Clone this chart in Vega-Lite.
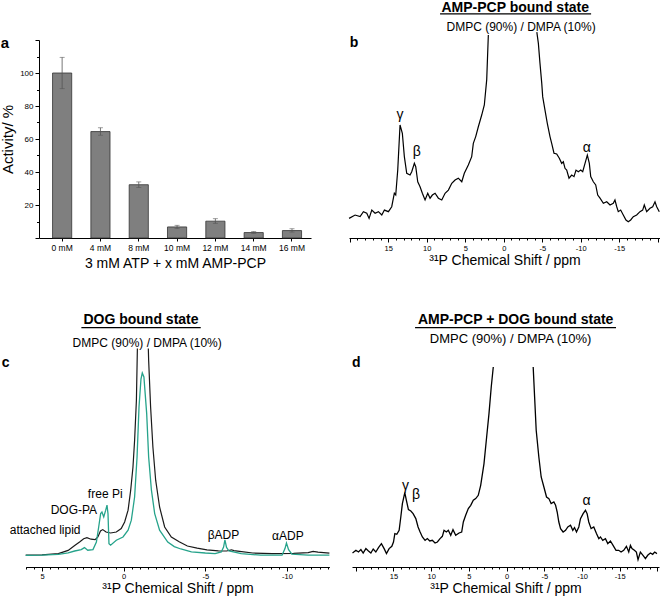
{
 "$schema": "https://vega.github.io/schema/vega-lite/v6.json",
 "padding": 0,
 "background": "white",
 "columns": 1,
 "align": "none",
 "spacing": 42,
 "config": {
  "font": "Liberation Sans",
  "view": {"stroke": null},
  "axis": {"domainColor": "black", "tickColor": "black", "labelColor": "black", "titleColor": "black", "titleFontWeight": "normal", "grid": false, "titleFontSize": 14},
  "text": {"color": "black", "font": "Liberation Sans"}
 },
 "datasets": {
  "activity": [
   {"conc": "0 mM", "activity": 100, "lo": 90.5, "hi": 109.5},
   {"conc": "4 mM", "activity": 64.5, "lo": 62.3, "hi": 66.8},
   {"conc": "8 mM", "activity": 32.3, "lo": 30.6, "hi": 34.0},
   {"conc": "10 mM", "activity": 6.7, "lo": 5.7, "hi": 7.7},
   {"conc": "12 mM", "activity": 10.2, "lo": 8.9, "hi": 11.7},
   {"conc": "14 mM", "activity": 3.3, "lo": 2.8, "hi": 3.9},
   {"conc": "16 mM", "activity": 4.5, "lo": 3.6, "hi": 5.6}
  ],
  "specB": [
   {"ppm":20.09,"i":9.9,"seg":"L"},{"ppm":19.31,"i":11.6,"seg":"L"},{"ppm":18.66,"i":10.8,"seg":"L"},{"ppm":18.23,"i":13.3,"seg":"L"},{"ppm":17.79,"i":12.5,"seg":"L"},{"ppm":17.49,"i":9.9,"seg":"L"},{"ppm":17.14,"i":14.1,"seg":"L"},{"ppm":16.71,"i":12.5,"seg":"L"},{"ppm":16.28,"i":13.3,"seg":"L"},{"ppm":15.84,"i":11.6,"seg":"L"},{"ppm":15.5,"i":14.1,"seg":"L"},{"ppm":14.98,"i":13.3,"seg":"L"},{"ppm":14.55,"i":15.8,"seg":"L"},{"ppm":14.21,"i":22.6,"seg":"L"},{"ppm":14.03,"i":21.7,"seg":"L"},{"ppm":13.77,"i":34.3,"seg":"L"},{"ppm":13.47,"i":57.1,"seg":"L"},{"ppm":13.17,"i":52.9,"seg":"L"},{"ppm":12.91,"i":41.1,"seg":"L"},{"ppm":12.6,"i":32.7,"seg":"L"},{"ppm":12.17,"i":31.8,"seg":"L"},{"ppm":11.95,"i":33.5,"seg":"L"},{"ppm":11.61,"i":37.7,"seg":"L"},{"ppm":11.43,"i":36.0,"seg":"L"},{"ppm":11.17,"i":28.4,"seg":"L"},{"ppm":10.87,"i":25.9,"seg":"L"},{"ppm":10.57,"i":22.6,"seg":"L"},{"ppm":10.22,"i":19.2,"seg":"L"},{"ppm":9.87,"i":22.6,"seg":"L"},{"ppm":9.57,"i":20.1,"seg":"L"},{"ppm":9.27,"i":21.7,"seg":"L"},{"ppm":8.92,"i":22.6,"seg":"L"},{"ppm":8.49,"i":20.1,"seg":"L"},{"ppm":8.05,"i":19.2,"seg":"L"},{"ppm":7.62,"i":22.6,"seg":"L"},{"ppm":7.19,"i":24.2,"seg":"L"},{"ppm":6.75,"i":27.6,"seg":"L"},{"ppm":6.32,"i":29.3,"seg":"L"},{"ppm":5.9,"i":30.2,"seg":"L"},{"ppm":5.45,"i":28.4,"seg":"L"},{"ppm":5.12,"i":32.7,"seg":"L"},{"ppm":4.6,"i":36.9,"seg":"L"},{"ppm":4.16,"i":41.1,"seg":"L"},{"ppm":3.95,"i":47.8,"seg":"L"},{"ppm":3.64,"i":51.2,"seg":"L"},{"ppm":3.3,"i":56.2,"seg":"L"},{"ppm":2.86,"i":62.1,"seg":"L"},{"ppm":2.52,"i":67.2,"seg":"L"},{"ppm":2.21,"i":80.0,"seg":"L"},{"ppm":2.0,"i":102.5,"seg":"L"},
   {"ppm":-4.3,"i":104,"seg":"R"},{"ppm":-4.5,"i":98.3,"seg":"R"},{"ppm":-4.71,"i":88.2,"seg":"R"},{"ppm":-4.94,"i":78.1,"seg":"R"},{"ppm":-5.06,"i":71.4,"seg":"R"},{"ppm":-5.36,"i":64.6,"seg":"R"},{"ppm":-5.66,"i":57.9,"seg":"R"},{"ppm":-6.01,"i":51.2,"seg":"R"},{"ppm":-6.23,"i":47.8,"seg":"R"},{"ppm":-6.53,"i":42.8,"seg":"R"},{"ppm":-6.88,"i":42.4,"seg":"R"},{"ppm":-7.22,"i":40.3,"seg":"R"},{"ppm":-7.53,"i":37.7,"seg":"R"},{"ppm":-7.74,"i":38.5,"seg":"R"},{"ppm":-7.96,"i":35.2,"seg":"R"},{"ppm":-8.18,"i":34.3,"seg":"R"},{"ppm":-8.48,"i":30.2,"seg":"R"},{"ppm":-8.83,"i":31.8,"seg":"R"},{"ppm":-9.13,"i":31.0,"seg":"R"},{"ppm":-9.39,"i":34.3,"seg":"R"},{"ppm":-9.69,"i":33.5,"seg":"R"},{"ppm":-10.0,"i":34.3,"seg":"R"},{"ppm":-10.26,"i":33.5,"seg":"R"},{"ppm":-10.56,"i":37.7,"seg":"R"},{"ppm":-10.86,"i":41.9,"seg":"R"},{"ppm":-11.12,"i":37.7,"seg":"R"},{"ppm":-11.3,"i":31.0,"seg":"R"},{"ppm":-11.64,"i":28.4,"seg":"R"},{"ppm":-11.95,"i":26.8,"seg":"R"},{"ppm":-12.21,"i":21.7,"seg":"R"},{"ppm":-12.51,"i":20.1,"seg":"R"},{"ppm":-12.94,"i":17.5,"seg":"R"},{"ppm":-13.38,"i":18.3,"seg":"R"},{"ppm":-13.81,"i":16.7,"seg":"R"},{"ppm":-14.23,"i":17.5,"seg":"R"},{"ppm":-14.45,"i":19.2,"seg":"R"},{"ppm":-14.68,"i":15.8,"seg":"R"},{"ppm":-14.88,"i":13.3,"seg":"R"},{"ppm":-15.19,"i":14.1,"seg":"R"},{"ppm":-15.53,"i":11.6,"seg":"R"},{"ppm":-15.88,"i":9.1,"seg":"R"},{"ppm":-16.18,"i":8.2,"seg":"R"},{"ppm":-16.49,"i":9.1,"seg":"R"},{"ppm":-16.83,"i":10.8,"seg":"R"},{"ppm":-17.27,"i":11.6,"seg":"R"},{"ppm":-17.7,"i":13.3,"seg":"R"},{"ppm":-18.05,"i":14.1,"seg":"R"},{"ppm":-18.26,"i":16.7,"seg":"R"},{"ppm":-18.57,"i":13.3,"seg":"R"},{"ppm":-19.0,"i":15.0,"seg":"R"},{"ppm":-19.35,"i":15.8,"seg":"R"},{"ppm":-19.65,"i":18.3,"seg":"R"},{"ppm":-19.87,"i":15.8,"seg":"R"},{"ppm":-20.21,"i":13.3,"seg":"R"}
  ],
  "specCblack": [
   {"ppm":6.0,"i":5.9,"seg":"L"},{"ppm":5.0,"i":6.1,"seg":"L"},{"ppm":4.0,"i":6.7,"seg":"L"},{"ppm":3.4,"i":8.3,"seg":"L"},{"ppm":3.0,"i":10.8,"seg":"L"},{"ppm":2.7,"i":12.5,"seg":"L"},{"ppm":2.45,"i":14.1,"seg":"L"},{"ppm":2.25,"i":14.7,"seg":"L"},{"ppm":2.0,"i":13.9,"seg":"L"},{"ppm":1.75,"i":13.7,"seg":"L"},{"ppm":1.58,"i":15.0,"seg":"L"},{"ppm":1.42,"i":18.0,"seg":"L"},{"ppm":1.28,"i":18.7,"seg":"L"},{"ppm":1.08,"i":17.5,"seg":"L"},{"ppm":0.8,"i":17.0,"seg":"L"},{"ppm":0.45,"i":17.5,"seg":"L"},{"ppm":0.15,"i":19.2,"seg":"L"},{"ppm":-0.06,"i":22.5,"seg":"L"},{"ppm":-0.27,"i":28.4,"seg":"L"},{"ppm":-0.43,"i":38.4,"seg":"L"},{"ppm":-0.57,"i":50.0,"seg":"L"},{"ppm":-0.67,"i":63.4,"seg":"L"},{"ppm":-0.78,"i":83.4,"seg":"L"},{"ppm":-0.84,"i":109.2,"seg":"L"},
   {"ppm":-1.51,"i":109.2,"seg":"R"},{"ppm":-1.53,"i":103.4,"seg":"R"},{"ppm":-1.65,"i":80.0,"seg":"R"},{"ppm":-1.79,"i":60.0,"seg":"R"},{"ppm":-1.96,"i":43.4,"seg":"R"},{"ppm":-2.2,"i":30.0,"seg":"R"},{"ppm":-2.51,"i":20.0,"seg":"R"},{"ppm":-2.92,"i":15.0,"seg":"R"},{"ppm":-3.4,"i":12.6,"seg":"R"},{"ppm":-3.9,"i":10.5,"seg":"R"},{"ppm":-4.5,"i":9.4,"seg":"R"},{"ppm":-5.1,"i":8.6,"seg":"R"},{"ppm":-5.8,"i":8.1,"seg":"R"},{"ppm":-6.3,"i":8.0,"seg":"R"},{"ppm":-6.6,"i":8.6,"seg":"R"},{"ppm":-6.75,"i":8.2,"seg":"R"},{"ppm":-7.1,"i":7.8,"seg":"R"},{"ppm":-7.9,"i":7.0,"seg":"R"},{"ppm":-9.1,"i":6.7,"seg":"R"},{"ppm":-10.4,"i":6.8,"seg":"R"},{"ppm":-11.3,"i":7.2,"seg":"R"},{"ppm":-11.6,"i":7.8,"seg":"R"},{"ppm":-11.9,"i":7.4,"seg":"R"},{"ppm":-12.6,"i":6.9,"seg":"R"}
  ],
  "specCteal": [
   {"ppm":6.0,"i":5.8},{"ppm":5.0,"i":5.9},{"ppm":4.0,"i":6.3},{"ppm":3.4,"i":7.1},{"ppm":3.0,"i":8.0},{"ppm":2.6,"i":8.7},{"ppm":2.4,"i":9.7},{"ppm":2.2,"i":8.4},{"ppm":1.88,"i":8.7},{"ppm":1.67,"i":12.5},{"ppm":1.53,"i":20.0},{"ppm":1.41,"i":26.7},{"ppm":1.33,"i":27.5},{"ppm":1.22,"i":25.0},{"ppm":1.1,"i":28.4},{"ppm":1.02,"i":30.9},{"ppm":0.96,"i":26.7},{"ppm":0.9,"i":11.7},{"ppm":0.8,"i":10.9},{"ppm":0.45,"i":13.4},{"ppm":0.04,"i":15.0},{"ppm":-0.27,"i":18.4},{"ppm":-0.47,"i":23.4},{"ppm":-0.67,"i":35.0},{"ppm":-0.82,"i":55.0},{"ppm":-0.94,"i":80.0},{"ppm":-1.06,"i":94.0},{"ppm":-1.14,"i":97.0},{"ppm":-1.24,"i":95.0},{"ppm":-1.41,"i":76.7},{"ppm":-1.53,"i":55.0},{"ppm":-1.7,"i":38.4},{"ppm":-1.9,"i":26.7},{"ppm":-2.2,"i":18.4},{"ppm":-2.7,"i":12.5},{"ppm":-3.1,"i":10.2},{"ppm":-3.5,"i":9.0},{"ppm":-4.15,"i":7.6},{"ppm":-5.0,"i":7.0},{"ppm":-5.6,"i":6.7},{"ppm":-5.98,"i":7.5},{"ppm":-6.12,"i":10.0},{"ppm":-6.2,"i":13.6},{"ppm":-6.3,"i":9.8},{"ppm":-6.45,"i":8.0},{"ppm":-7.2,"i":6.7},{"ppm":-8.4,"i":5.9},{"ppm":-9.7,"i":5.9},{"ppm":-9.88,"i":9.2},{"ppm":-9.97,"i":12.0},{"ppm":-10.1,"i":8.7},{"ppm":-10.3,"i":6.4},{"ppm":-11.3,"i":5.9},{"ppm":-12.6,"i":5.9}
  ],
  "specD": [
   {"ppm":20.43,"i":7.0,"seg":"L"},{"ppm":19.98,"i":8.35,"seg":"L"},{"ppm":19.64,"i":7.5,"seg":"L"},{"ppm":19.32,"i":8.7,"seg":"L"},{"ppm":19.02,"i":7.0,"seg":"L"},{"ppm":18.66,"i":9.2,"seg":"L"},{"ppm":18.32,"i":8.0,"seg":"L"},{"ppm":18.0,"i":7.0,"seg":"L"},{"ppm":17.69,"i":9.0,"seg":"L"},{"ppm":17.34,"i":7.5,"seg":"L"},{"ppm":16.99,"i":9.7,"seg":"L"},{"ppm":16.6,"i":11.7,"seg":"L"},{"ppm":16.24,"i":9.2,"seg":"L"},{"ppm":15.93,"i":6.7,"seg":"L"},{"ppm":15.58,"i":9.2,"seg":"L"},{"ppm":15.22,"i":10.35,"seg":"L"},{"ppm":15.0,"i":12.5,"seg":"L"},{"ppm":14.82,"i":16.7,"seg":"L"},{"ppm":14.56,"i":16.35,"seg":"L"},{"ppm":14.25,"i":18.35,"seg":"L"},{"ppm":14.03,"i":25.0,"seg":"L"},{"ppm":13.82,"i":31.7,"seg":"L"},{"ppm":13.5,"i":37.2,"seg":"L"},{"ppm":13.29,"i":33.35,"seg":"L"},{"ppm":13.02,"i":28.7,"seg":"L"},{"ppm":12.7,"i":28.0,"seg":"L"},{"ppm":12.4,"i":26.7,"seg":"L"},{"ppm":12.04,"i":24.2,"seg":"L"},{"ppm":11.74,"i":20.0,"seg":"L"},{"ppm":11.47,"i":17.5,"seg":"L"},{"ppm":11.17,"i":15.0,"seg":"L"},{"ppm":10.81,"i":13.35,"seg":"L"},{"ppm":10.51,"i":14.2,"seg":"L"},{"ppm":10.19,"i":13.0,"seg":"L"},{"ppm":9.85,"i":13.35,"seg":"L"},{"ppm":9.49,"i":12.0,"seg":"L"},{"ppm":9.18,"i":12.5,"seg":"L"},{"ppm":8.83,"i":14.2,"seg":"L"},{"ppm":8.52,"i":15.35,"seg":"L"},{"ppm":8.3,"i":18.35,"seg":"L"},{"ppm":7.99,"i":17.5,"seg":"L"},{"ppm":7.73,"i":18.35,"seg":"L"},{"ppm":7.41,"i":15.85,"seg":"L"},{"ppm":7.11,"i":18.7,"seg":"L"},{"ppm":6.75,"i":15.85,"seg":"L"},{"ppm":6.31,"i":17.0,"seg":"L"},{"ppm":5.96,"i":17.5,"seg":"L"},{"ppm":5.74,"i":22.5,"seg":"L"},{"ppm":5.43,"i":25.85,"seg":"L"},{"ppm":5.08,"i":29.2,"seg":"L"},{"ppm":4.76,"i":30.85,"seg":"L"},{"ppm":4.42,"i":33.35,"seg":"L"},{"ppm":4.1,"i":34.2,"seg":"L"},{"ppm":3.76,"i":35.85,"seg":"L"},{"ppm":3.44,"i":40.85,"seg":"L"},{"ppm":3.0,"i":51.7,"seg":"L"},{"ppm":2.65,"i":65.0,"seg":"L"},{"ppm":2.34,"i":76.7,"seg":"L"},{"ppm":2.04,"i":90.0,"seg":"L"},{"ppm":1.77,"i":100.0,"seg":"L"},
   {"ppm":-3.52,"i":100.0,"seg":"R"},{"ppm":-3.71,"i":85.0,"seg":"R"},{"ppm":-3.92,"i":68.35,"seg":"R"},{"ppm":-4.27,"i":55.0,"seg":"R"},{"ppm":-4.58,"i":45.0,"seg":"R"},{"ppm":-4.94,"i":40.0,"seg":"R"},{"ppm":-5.29,"i":35.0,"seg":"R"},{"ppm":-5.6,"i":34.2,"seg":"R"},{"ppm":-5.9,"i":31.7,"seg":"R"},{"ppm":-6.26,"i":32.5,"seg":"R"},{"ppm":-6.49,"i":30.85,"seg":"R"},{"ppm":-6.7,"i":27.5,"seg":"R"},{"ppm":-6.92,"i":22.5,"seg":"R"},{"ppm":-7.15,"i":19.2,"seg":"R"},{"ppm":-7.49,"i":17.5,"seg":"R"},{"ppm":-7.81,"i":18.35,"seg":"R"},{"ppm":-8.11,"i":20.0,"seg":"R"},{"ppm":-8.47,"i":20.85,"seg":"R"},{"ppm":-8.77,"i":18.35,"seg":"R"},{"ppm":-9.0,"i":19.7,"seg":"R"},{"ppm":-9.26,"i":17.5,"seg":"R"},{"ppm":-9.57,"i":20.0,"seg":"R"},{"ppm":-9.79,"i":24.2,"seg":"R"},{"ppm":-10.14,"i":26.7,"seg":"R"},{"ppm":-10.45,"i":28.35,"seg":"R"},{"ppm":-10.67,"i":26.7,"seg":"R"},{"ppm":-10.89,"i":22.5,"seg":"R"},{"ppm":-11.2,"i":19.2,"seg":"R"},{"ppm":-11.55,"i":20.0,"seg":"R"},{"ppm":-11.91,"i":16.7,"seg":"R"},{"ppm":-12.22,"i":14.2,"seg":"R"},{"ppm":-12.44,"i":15.0,"seg":"R"},{"ppm":-12.74,"i":13.35,"seg":"R"},{"ppm":-13.1,"i":14.2,"seg":"R"},{"ppm":-13.41,"i":11.7,"seg":"R"},{"ppm":-13.76,"i":13.0,"seg":"R"},{"ppm":-14.11,"i":10.85,"seg":"R"},{"ppm":-14.5,"i":8.35,"seg":"R"},{"ppm":-14.86,"i":8.35,"seg":"R"},{"ppm":-15.17,"i":7.5,"seg":"R"},{"ppm":-15.52,"i":8.35,"seg":"R"},{"ppm":-15.88,"i":10.35,"seg":"R"},{"ppm":-16.19,"i":7.5,"seg":"R"},{"ppm":-16.41,"i":10.85,"seg":"R"},{"ppm":-16.62,"i":9.2,"seg":"R"},{"ppm":-16.94,"i":8.35,"seg":"R"},{"ppm":-17.2,"i":7.5,"seg":"R"},{"ppm":-17.42,"i":3.7,"seg":"R"},{"ppm":-17.73,"i":7.5,"seg":"R"},{"ppm":-18.08,"i":5.85,"seg":"R"},{"ppm":-18.4,"i":4.2,"seg":"R"},{"ppm":-18.7,"i":5.85,"seg":"R"},{"ppm":-19.06,"i":7.0,"seg":"R"},{"ppm":-19.36,"i":6.35,"seg":"R"},{"ppm":-19.63,"i":7.5,"seg":"R"},{"ppm":-19.93,"i":6.7,"seg":"R"}
  ]
 },
 "concat": [
  {
   "spacing": 35,
   "hconcat": [
    {
     "width": 272, "height": 198,
     "title": {"text": "a", "anchor": "start", "frame": "bounds", "fontSize": 15, "fontWeight": "bold", "baseline": "alphabetic", "offset": 0, "dy": 27, "color": "black"},
     "data": {"name": "activity"},
     "resolve": {"axis": {"y": "independent"}},
     "encoding": {
      "x": {"field": "conc", "type": "nominal", "sort": null, "title": "3 mM ATP + x mM AMP-PCP",
            "scale": {"paddingInner": 0.5, "paddingOuter": 0.3, "align": 0.59},
            "axis": {"labelAngle": 0, "labelFontSize": 8.5, "tickSize": 3, "labelPadding": 2, "titlePadding": 5}}
     },
     "layer": [
      {"mark": {"type": "bar", "fill": "#7f7f7f", "stroke": "#333333", "strokeWidth": 0.8},
       "encoding": {"y": {"field": "activity", "type": "quantitative", "title": "Activity/ %",
         "scale": {"domain": [0, 120], "nice": false},
         "axis": {"values": [0,10,20,30,40,50,60,70,80,90,100,110,120],
                  "labelOverlap": false,
                  "labelExpr": "datum.value % 20 === 0 && datum.value > 0 && datum.value < 120 ? datum.label : ''",
                  "tickSize": {"condition": {"test": "datum.value % 20 === 0", "value": 4}, "value": 2.5},
                  "labelFontSize": 8, "labelPadding": 2, "titlePadding": 4, "titleFontSize": 15}}}},
      {"mark": {"type": "rule", "color": "#555555", "strokeWidth": 0.8},
       "encoding": {"y": {"field": "lo", "type": "quantitative", "axis": null}, "y2": {"field": "hi"}}},
      {"mark": {"type": "tick", "color": "#555555", "size": 5, "thickness": 0.8},
       "encoding": {"y": {"field": "lo", "type": "quantitative", "axis": null}}},
      {"mark": {"type": "tick", "color": "#555555", "size": 5, "thickness": 0.8},
       "encoding": {"y": {"field": "hi", "type": "quantitative", "axis": null}}}
     ]
    },
    {
     "width": 311, "height": 198,
     "resolve": {"axis": {"x": "independent", "y": "independent"}},
     "layer": [
      {"data": {"name": "specB"}, "mark": {"type": "line", "color": "black", "strokeWidth": 1.2},
       "encoding": {
        "x": {"field": "ppm", "type": "quantitative", "title": "³¹P Chemical Shift / ppm",
              "scale": {"domain": [20.1, -20.3], "nice": false, "zero": false},
              "axis": {"values": [20,19,18,17,16,15,14,13,12,11,10,9,8,7,6,5,4,3,2,1,0,-1,-2,-3,-4,-5,-6,-7,-8,-9,-10,-11,-12,-13,-14,-15,-16,-17,-18,-19,-20],
                       "labelOverlap": false,
                       "labelExpr": "abs(datum.value) <= 15 && datum.value % 5 === 0 ? toString(datum.value) : ''",
                       "tickSize": {"condition": {"test": "datum.value % 5 === 0", "value": 4}, "value": 2},
                       "labelFontSize": 7.5, "labelPadding": 2, "titlePadding": 2}},
        "y": {"field": "i", "type": "quantitative", "scale": {"domain": [0, 100], "nice": false}, "axis": null},
        "detail": {"field": "seg"}}},
      {"data": {"values": [{"k": 1}]}, "mark": {"type": "text", "text": "AMP-PCP bound state", "fontSize": 14, "fontWeight": "bold", "align": "center", "baseline": "alphabetic"},
       "encoding": {"x": {"datum": -1.5, "type": "quantitative", "axis": null}, "y": {"datum": 114.3, "type": "quantitative", "axis": null}}},
      {"data": {"values": [{"k": 1}]}, "mark": {"type": "rule", "color": "black", "strokeWidth": 1.2},
       "encoding": {"x": {"datum": 8.27, "type": "quantitative", "axis": null}, "x2": {"datum": -11.35}, "y": {"datum": 113.2, "type": "quantitative", "axis": null}}},
      {"data": {"values": [{"k": 1}]}, "mark": {"type": "text", "text": "DMPC (90%) / DMPA (10%)", "fontSize": 12, "align": "center", "baseline": "alphabetic"},
       "encoding": {"x": {"datum": -2.25, "type": "quantitative", "axis": null}, "y": {"datum": 104.5, "type": "quantitative", "axis": null}}},
      {"data": {"values": [{"k": 1}]}, "mark": {"type": "text", "text": "b", "fontSize": 14, "fontWeight": "bold", "align": "left", "baseline": "alphabetic"},
       "encoding": {"x": {"datum": 20.0, "type": "quantitative", "axis": null}, "y": {"datum": 96.6, "type": "quantitative", "axis": null}}},
      {"data": {"values": [{"k": 1}]}, "mark": {"type": "text", "text": "γ", "fontSize": 14, "align": "center", "baseline": "middle"},
       "encoding": {"x": {"datum": 13.47, "type": "quantitative", "axis": null}, "y": {"datum": 62.1, "type": "quantitative", "axis": null}}},
      {"data": {"values": [{"k": 1}]}, "mark": {"type": "text", "text": "β", "fontSize": 14, "align": "center", "baseline": "middle"},
       "encoding": {"x": {"datum": 11.3, "type": "quantitative", "axis": null}, "y": {"datum": 43.2, "type": "quantitative", "axis": null}}},
      {"data": {"values": [{"k": 1}]}, "mark": {"type": "text", "text": "α", "fontSize": 14, "align": "center", "baseline": "middle"},
       "encoding": {"x": {"datum": -10.78, "type": "quantitative", "axis": null}, "y": {"datum": 45.5, "type": "quantitative", "axis": null}}}
     ]
    }
   ]
  },
  {
   "spacing": 6,
   "hconcat": [
    {
     "width": 290, "height": 200,
     "resolve": {"axis": {"x": "independent", "y": "independent"}},
     "layer": [
      {"data": {"name": "specCblack"}, "mark": {"type": "line", "color": "#1a1a1a", "strokeWidth": 1.2},
       "encoding": {
        "x": {"field": "ppm", "type": "quantitative", "title": "³¹P Chemical Shift / ppm",
              "scale": {"domain": [6, -12.6], "range": [-13.3, 290.4], "nice": false, "zero": false},
              "axis": {"values": [6,5.5,5,4.5,4,3.5,3,2.5,2,1.5,1,0.5,0,-0.5,-1,-1.5,-2,-2.5,-3,-3.5,-4,-4.5,-5,-5.5,-6,-6.5,-7,-7.5,-8,-8.5,-9,-9.5,-10,-10.5,-11,-11.5,-12,-12.5],
                       "labelOverlap": false,
                       "labelExpr": "datum.value % 5 === 0 ? toString(datum.value) : ''",
                       "tickSize": {"condition": {"test": "datum.value % 5 === 0", "value": 4}, "value": 2},
                       "labelFontSize": 7.5, "labelPadding": 1, "titlePadding": 2}},
        "y": {"field": "i", "type": "quantitative", "scale": {"domain": [0, 100], "nice": false}, "axis": null},
        "detail": {"field": "seg"}}},
      {"data": {"name": "specCteal"}, "mark": {"type": "line", "color": "#26a38b", "strokeWidth": 1.3},
       "encoding": {"x": {"field": "ppm", "type": "quantitative", "axis": null}, "y": {"field": "i", "type": "quantitative", "axis": null}}},
      {"data": {"values": [{"k": 1}]}, "mark": {"type": "text", "text": "DOG bound state", "fontSize": 14, "fontWeight": "bold", "align": "center", "baseline": "alphabetic"},
       "encoding": {"x": {"datum": -1.06, "type": "quantitative", "axis": null}, "y": {"datum": 121.35, "type": "quantitative", "axis": null}}},
      {"data": {"values": [{"k": 1}]}, "mark": {"type": "rule", "color": "black", "strokeWidth": 1.2},
       "encoding": {"x": {"datum": 2.59, "type": "quantitative", "axis": null}, "x2": {"datum": -4.72}, "y": {"datum": 119.7, "type": "quantitative", "axis": null}}},
      {"data": {"values": [{"k": 1}]}, "mark": {"type": "text", "text": "DMPC (90%) / DMPA (10%)", "fontSize": 12, "align": "center", "baseline": "alphabetic"},
       "encoding": {"x": {"datum": -1.44, "type": "quantitative", "axis": null}, "y": {"datum": 110, "type": "quantitative", "axis": null}}},
      {"data": {"values": [{"k": 1}]}, "mark": {"type": "text", "text": "c", "fontSize": 14, "fontWeight": "bold", "align": "left", "baseline": "alphabetic"},
       "encoding": {"x": {"datum": 7.47, "type": "quantitative", "axis": null}, "y": {"datum": 100, "type": "quantitative", "axis": null}}},
      {"data": {"values": [{"k": 1}]}, "mark": {"type": "text", "text": "attached lipid", "fontSize": 12, "align": "center", "baseline": "alphabetic"},
       "encoding": {"x": {"datum": 4.81, "type": "quantitative", "axis": null}, "y": {"datum": 16.3, "type": "quantitative", "axis": null}}},
      {"data": {"values": [{"k": 1}]}, "mark": {"type": "text", "text": "DOG-PA", "fontSize": 12, "align": "center", "baseline": "alphabetic"},
       "encoding": {"x": {"datum": 3.05, "type": "quantitative", "axis": null}, "y": {"datum": 26.7, "type": "quantitative", "axis": null}}},
      {"data": {"values": [{"k": 1}]}, "mark": {"type": "text", "text": "free Pi", "fontSize": 12, "align": "center", "baseline": "alphabetic"},
       "encoding": {"x": {"datum": 1.13, "type": "quantitative", "axis": null}, "y": {"datum": 34.5, "type": "quantitative", "axis": null}}},
      {"data": {"values": [{"k": 1}]}, "mark": {"type": "text", "text": "βADP", "fontSize": 12, "align": "center", "baseline": "alphabetic"},
       "encoding": {"x": {"datum": -6.11, "type": "quantitative", "axis": null}, "y": {"datum": 14.2, "type": "quantitative", "axis": null}}},
      {"data": {"values": [{"k": 1}]}, "mark": {"type": "text", "text": "αADP", "fontSize": 12, "align": "center", "baseline": "alphabetic"},
       "encoding": {"x": {"datum": -10.06, "type": "quantitative", "axis": null}, "y": {"datum": 13.35, "type": "quantitative", "axis": null}}}
     ]
    },
    {
     "width": 307, "height": 200,
     "resolve": {"axis": {"x": "independent", "y": "independent"}},
     "layer": [
      {"data": {"name": "specD"}, "mark": {"type": "line", "color": "black", "strokeWidth": 1.3},
       "encoding": {
        "x": {"field": "ppm", "type": "quantitative", "title": "³¹P Chemical Shift / ppm",
              "scale": {"domain": [20.5, -20.2], "nice": false, "zero": false},
              "axis": {"values": [20,19,18,17,16,15,14,13,12,11,10,9,8,7,6,5,4,3,2,1,0,-1,-2,-3,-4,-5,-6,-7,-8,-9,-10,-11,-12,-13,-14,-15,-16,-17,-18,-19,-20],
                       "labelOverlap": false,
                       "labelExpr": "abs(datum.value) <= 15 && datum.value % 5 === 0 ? toString(datum.value) : ''",
                       "tickSize": {"condition": {"test": "datum.value % 5 === 0", "value": 4}, "value": 2},
                       "labelFontSize": 7.5, "labelPadding": 1, "titlePadding": 2}},
        "y": {"field": "i", "type": "quantitative", "scale": {"domain": [0, 100], "nice": false}, "axis": null},
        "detail": {"field": "seg"}}},
      {"data": {"values": [{"k": 1}]}, "mark": {"type": "text", "text": "AMP-PCP + DOG bound state", "fontSize": 14, "fontWeight": "bold", "align": "center", "baseline": "alphabetic"},
       "encoding": {"x": {"datum": -1.2, "type": "quantitative", "axis": null}, "y": {"datum": 121.35, "type": "quantitative", "axis": null}}},
      {"data": {"values": [{"k": 1}]}, "mark": {"type": "rule", "color": "black", "strokeWidth": 1.2},
       "encoding": {"x": {"datum": 12.14, "type": "quantitative", "axis": null}, "x2": {"datum": -14.5}, "y": {"datum": 119.7, "type": "quantitative", "axis": null}}},
      {"data": {"values": [{"k": 1}]}, "mark": {"type": "text", "text": "DMPC (90%) / DMPA (10%)", "fontSize": 13, "align": "center", "baseline": "alphabetic"},
       "encoding": {"x": {"datum": -0.53, "type": "quantitative", "axis": null}, "y": {"datum": 112, "type": "quantitative", "axis": null}}},
      {"data": {"values": [{"k": 1}]}, "mark": {"type": "text", "text": "d", "fontSize": 14, "fontWeight": "bold", "align": "left", "baseline": "alphabetic"},
       "encoding": {"x": {"datum": 20.5, "type": "quantitative", "axis": null}, "y": {"datum": 100, "type": "quantitative", "axis": null}}},
      {"data": {"values": [{"k": 1}]}, "mark": {"type": "text", "text": "γ", "fontSize": 14, "align": "center", "baseline": "middle"},
       "encoding": {"x": {"datum": 13.42, "type": "quantitative", "axis": null}, "y": {"datum": 40.4, "type": "quantitative", "axis": null}}},
      {"data": {"values": [{"k": 1}]}, "mark": {"type": "text", "text": "β", "fontSize": 14, "align": "center", "baseline": "middle"},
       "encoding": {"x": {"datum": 12.0, "type": "quantitative", "axis": null}, "y": {"datum": 36, "type": "quantitative", "axis": null}}},
      {"data": {"values": [{"k": 1}]}, "mark": {"type": "text", "text": "α", "fontSize": 14, "align": "center", "baseline": "middle"},
       "encoding": {"x": {"datum": -10.6, "type": "quantitative", "axis": null}, "y": {"datum": 33, "type": "quantitative", "axis": null}}}
     ]
    }
   ]
  }
 ]
}
